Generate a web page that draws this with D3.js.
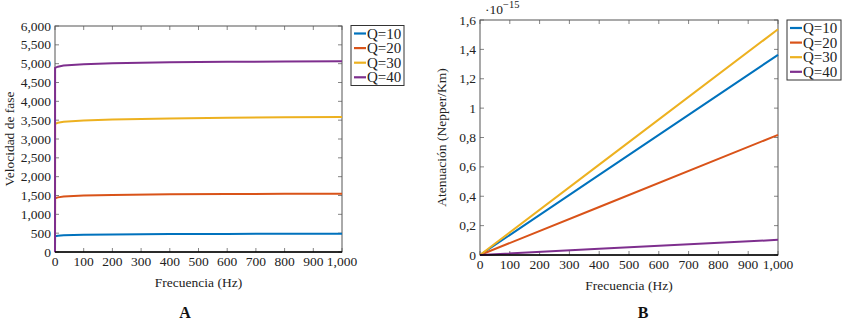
<!DOCTYPE html>
<html>
<head>
<meta charset="utf-8">
<script src="https://cdn.jsdelivr.net/npm/d3@7"></script>
<style>
  body { margin: 0; background: #fff; }
  svg text { font-family: "Liberation Serif", "Times New Roman", "DejaVu Serif", serif; }
</style>
</head>
<body>
<div id="container"></div>
<script>
/* DATA */
const seriesNames = ["Q=10", "Q=20", "Q=30", "Q=40"];
const seriesColors = ["#0072BD", "#D95319", "#EDB120", "#7E2F8E"];

// panel A - velocidad de fase
const freqA = [0, 0.3, 10, 30, 100, 200, 400, 600, 800, 1000];
const velQ10 = [0, 415, 430, 445, 455, 465, 475, 480, 484, 487];
const velQ20 = [0, 1425, 1450, 1475, 1500, 1515, 1530, 1538, 1544, 1548];
const velQ30 = [0, 3400, 3430, 3460, 3490, 3515, 3545, 3562, 3575, 3584];
const velQ40 = [0, 4890, 4920, 4950, 4985, 5010, 5035, 5048, 5057, 5063];

// panel B - atenuacion (x 1e-15)
const freqB = [0, 400, 1000];
const atQ10 = [0, 0.545, 1.363];
const atQ20 = [0, 0.327, 0.818];
const atQ30 = [0, 0.615, 1.537];
const atQ40 = [0, 0.042, 0.103];

const xTicks = [0, 100, 200, 300, 400, 500, 600, 700, 800, 900, 1000];
const yTicksA = d3.range(0, 6001, 500);
const yTicksB = [0, 0.2, 0.4, 0.6, 0.8, 1, 1.2, 1.4, 1.6];

/* CONSTANTS */
const width = 846, height = 326;
const serif = "'Liberation Serif', 'Times New Roman', 'DejaVu Serif', serif";

const svg = d3.select("#container")
  .append("svg")
  .attr("width", width)
  .attr("height", height)
  .attr("font-family", serif);

function drawPanel(cfg) {
  const xScale = d3.scaleLinear().domain([0, 1000]).range([cfg.left, cfg.right]);
  const yScale = d3.scaleLinear().domain(cfg.yDomain).range([cfg.bottom, cfg.top]);
  const g = svg.append("g");

  // inward ticks on all four sides
  const tl = 4;
  g.append("g").selectAll("line").data(xTicks).join("line")
    .attr("x1", d => xScale(d)).attr("x2", d => xScale(d))
    .attr("y1", cfg.bottom).attr("y2", cfg.bottom - tl)
    .attr("stroke", "#666").attr("stroke-width", 0.8);
  g.append("g").selectAll("line").data(xTicks).join("line")
    .attr("x1", d => xScale(d)).attr("x2", d => xScale(d))
    .attr("y1", cfg.top).attr("y2", cfg.top + tl)
    .attr("stroke", "#666").attr("stroke-width", 0.8);
  g.append("g").selectAll("line").data(cfg.yTicks).join("line")
    .attr("x1", cfg.left).attr("x2", cfg.left + tl)
    .attr("y1", d => yScale(d)).attr("y2", d => yScale(d))
    .attr("stroke", "#666").attr("stroke-width", 0.8);
  g.append("g").selectAll("line").data(cfg.yTicks).join("line")
    .attr("x1", cfg.right).attr("x2", cfg.right - tl)
    .attr("y1", d => yScale(d)).attr("y2", d => yScale(d))
    .attr("stroke", "#666").attr("stroke-width", 0.8);

  // frame
  g.append("rect")
    .attr("x", cfg.left).attr("y", cfg.top)
    .attr("width", cfg.right - cfg.left).attr("height", cfg.bottom - cfg.top)
    .attr("fill", "none").attr("stroke", "#555").attr("stroke-width", 1);

  // lines
  const line = d3.line()
    .x(d => xScale(d[0]))
    .y(d => yScale(d[1]));
  cfg.series.forEach((vals, i) => {
    g.append("path")
      .datum(cfg.freq.map((f, j) => [f, vals[j]]))
      .attr("d", line)
      .attr("fill", "none")
      .attr("stroke", seriesColors[i])
      .attr("stroke-width", 2);
  });

  // bottom axis line (drawn over)
  g.append("line")
    .attr("x1", cfg.left).attr("x2", cfg.right)
    .attr("y1", cfg.bottom).attr("y2", cfg.bottom)
    .attr("stroke", "#000").attr("stroke-width", 1.6);

  // tick labels
  g.append("g").selectAll("text").data(xTicks).join("text")
    .attr("x", d => xScale(d)).attr("y", cfg.bottom + 14)
    .attr("text-anchor", "middle")
    .attr("font-size", 13.5).attr("fill", "#222")
    .text(d => d3.format(",")(d));
  g.append("g").selectAll("text").data(cfg.yTicks).join("text")
    .attr("x", cfg.left - 4).attr("y", d => yScale(d) + 4.5)
    .attr("text-anchor", "end")
    .attr("font-size", 13.5).attr("fill", "#222")
    .text(cfg.yFormat);

  // axis titles
  g.append("text")
    .attr("x", (cfg.left + cfg.right) / 2).attr("y", cfg.bottom + 35)
    .attr("text-anchor", "middle").attr("font-size", 13.5).attr("fill", "#222")
    .text("Frecuencia (Hz)");
  g.append("text")
    .attr("transform", `translate(${cfg.yLabelX}, ${(cfg.top + cfg.bottom) / 2}) rotate(-90)`)
    .attr("text-anchor", "middle").attr("font-size", 13.5).attr("fill", "#222")
    .text(cfg.yLabel);

  // panel letter
  g.append("text")
    .attr("x", cfg.letterX).attr("y", 318)
    .attr("text-anchor", "middle").attr("font-size", 16)
    .attr("font-weight", "bold").attr("fill", "#111")
    .text(cfg.letter);

  // legend
  const lg = g.append("g").attr("transform", `translate(${cfg.legendX}, ${cfg.legendY})`);
  lg.append("rect")
    .attr("width", cfg.legendW).attr("height", 60)
    .attr("fill", "#fff").attr("stroke", "#333").attr("stroke-width", 1);
  seriesNames.forEach((name, i) => {
    const y = 8 + i * 14.6;
    lg.append("line")
      .attr("x1", 3).attr("x2", 15).attr("y1", y).attr("y2", y)
      .attr("stroke", seriesColors[i]).attr("stroke-width", 2.2);
    lg.append("text")
      .attr("x", 16).attr("y", y + 5)
      .attr("font-size", 15).attr("fill", "#222")
      .text(name);
  });

  return g;
}

drawPanel({
  left: 55, right: 342, top: 26, bottom: 252,
  yDomain: [0, 6000], yTicks: yTicksA,
  yFormat: d => d3.format(",")(d),
  freq: freqA, series: [velQ10, velQ20, velQ30, velQ40],
  yLabel: "Velocidad de fase", yLabelX: 14,
  letter: "A", letterX: 185,
  legendX: 351, legendY: 25.5, legendW: 53
});

const panelB = drawPanel({
  left: 480, right: 778, top: 20, bottom: 255,
  yDomain: [0, 1.6], yTicks: yTicksB,
  yFormat: d => d === 0 ? "0" : String(+d.toFixed(1)).replace(".", ","),
  freq: freqB, series: [atQ10, atQ20, atQ30, atQ40],
  yLabel: "Atenuación (Nepper/Km)", yLabelX: 446,
  letter: "B", letterX: 643,
  legendX: 787, legendY: 20, legendW: 54
});

// scale factor label
const sf = panelB.append("text")
  .attr("x", 485).attr("y", 14)
  .attr("font-size", 13.5).attr("fill", "#222");
sf.append("tspan").text("·10");
sf.append("tspan").attr("dy", -6).attr("font-size", 10.5).text("−15");
</script>
</body>
</html>
